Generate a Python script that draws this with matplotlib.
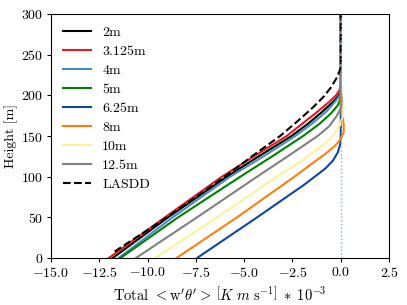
import matplotlib
matplotlib.use('Agg')
import matplotlib.pyplot as plt

plt.rcParams['font.family'] = 'serif'
plt.rcParams['font.serif'] = ['cmr10']
plt.rcParams['mathtext.fontset'] = 'cm'
plt.rcParams['axes.formatter.use_mathtext'] = True
plt.rcParams['font.size'] = 10
plt.rcParams['xtick.major.size'] = 3
plt.rcParams['ytick.major.size'] = 3
plt.rcParams['xtick.major.pad'] = 2.5
plt.rcParams['ytick.major.pad'] = 2.5

# profiles: flux values and heights
z_2m = [0, 50, 100, 125, 150, 165, 180, 192, 200, 207, 300]
f_2m = [-11.8, -8.94, -5.9, -4.25, -2.55, -1.7, -0.95, -0.4, -0.1, 0.0, 0.0]

z_3125 = [0, 50, 100, 125, 150, 165, 180, 192, 200, 207, 212, 300]
f_3125 = [-12.0, -9.1, -6.15, -4.5, -2.8, -2.0, -1.2, -0.6, -0.25, -0.05, 0.0, 0.0]

z_4m = [0, 50, 100, 125, 150, 165, 180, 192, 200, 207, 300]
f_4m = [-11.5, -8.7, -5.73, -4.0, -2.36, -1.5, -0.75, -0.3, -0.05, 0.0, 0.0]

z_5m = [0, 50, 100, 125, 150, 165, 178, 188, 197, 300]
f_5m = [-11.4, -8.42, -5.2, -3.55, -1.95, -1.1, -0.5, -0.15, 0.0, 0.0]

z_625 = [0, 50, 90, 100, 110, 120, 130, 140, 150, 300]
f_625 = [-7.44, -4.33, -1.9, -1.35, -0.8, -0.4, -0.15, -0.03, 0.0, 0.0]

z_8m = [0, 50, 100, 115, 128, 138, 146, 155, 165, 178, 190, 300]
f_8m = [-8.5, -5.37, -2.4, -1.55, -0.8, -0.3, 0.0, 0.15, 0.15, 0.05, 0.0, 0.0]

z_10m = [0, 50, 100, 120, 140, 152, 163, 175, 190, 205, 215, 300]
f_10m = [-9.6, -6.4, -3.3, -2.0, -0.85, -0.35, -0.05, 0.1, 0.12, 0.03, 0.0, 0.0]

z_125 = [0, 50, 100, 125, 150, 162, 175, 185, 195, 205, 300]
f_125 = [-10.6, -7.44, -4.33, -2.75, -1.2, -0.6, -0.2, 0.02, 0.05, 0.0, 0.0]

z_lasdd = [8, 50, 100, 125, 150, 170, 185, 198, 210, 222, 232, 238, 300]
f_lasdd = [-11.7, -9.0, -6.0, -4.6, -3.14, -2.15, -1.45, -0.9, -0.5, -0.2, -0.03, 0.0, 0.0]

labels = ['2m', '3.125m', '4m', '5m', '6.25m', '8m', '10m', '12.5m']
colors = ['black', '#e41a1c', '#4a8bc4', 'green', '#0d47a1', '#ff7f0e', '#fff09a', 'gray']
profiles = [(f_2m, z_2m), (f_3125, z_3125), (f_4m, z_4m), (f_5m, z_5m),
            (f_625, z_625), (f_8m, z_8m), (f_10m, z_10m), (f_125, z_125)]


def main():
    fig = plt.figure(figsize=(4.07, 3.05), dpi=100)
    ax = fig.add_axes([0.125, 0.154, 0.831, 0.8])
    for (f, z), lab, c in zip(profiles, labels, colors):
        ax.plot(f, z, color=c, lw=1.5, label=lab)
    ax.plot(f_lasdd, z_lasdd, color='black', ls='--', lw=1.5, label='LASDD')
    ax.axvline(0, color='#7fb2e0', ls=':', lw=1.0)
    ax.set_xlim(-15, 2.5)
    ax.set_ylim(0, 300)
    ax.set_xticks([-15, -12.5, -10, -7.5, -5, -2.5, 0, 2.5])
    ax.set_xticklabels(['$-15.0$', '$-12.5$', '$-10.0$', '$-7.5$', '$-5.0$',
                        '$-2.5$', '$0.0$', '$2.5$'])
    ax.set_yticks([0, 50, 100, 150, 200, 250, 300])
    ax.set_xlabel(r'Total $<\mathrm{w}^{\prime}\theta^{\prime}>\;\left[K\ m\ \mathrm{s}^{-1}\right]\;*\;10^{-3}$',
                  fontsize=10.5)
    ax.set_ylabel('Height [m]', fontsize=10)
    ax.yaxis.set_label_coords(-0.098, 0.5)
    ax.legend(loc='upper left', frameon=False, handlelength=2.0,
              labelspacing=0.45, fontsize=10)
    fig.savefig('out.png', dpi=100)


if __name__ == '__main__':
    main()
